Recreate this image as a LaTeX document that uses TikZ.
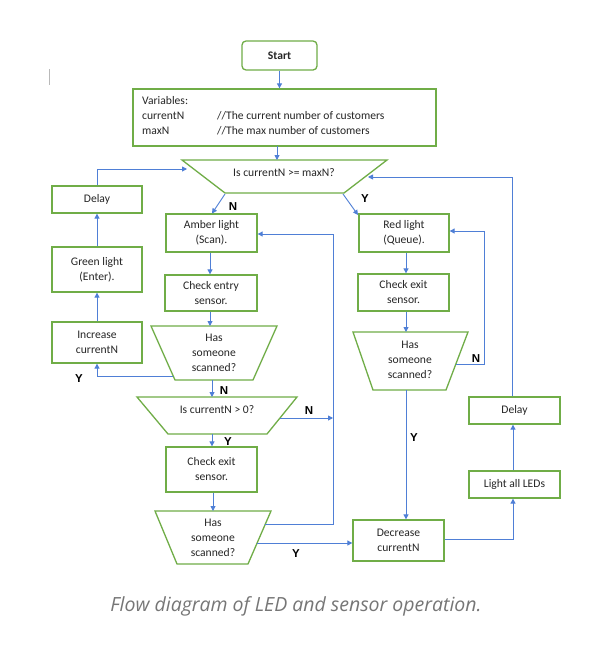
\documentclass[tikz,border=0pt]{standalone}
\usepackage{fontspec}
\setmainfont{Carlito}
\newfontfamily\arialb{Liberation Sans}
\newfontfamily\capfont{Open Sans}
\usetikzlibrary{arrows.meta}
\definecolor{boxgreen}{HTML}{70AD47}
\definecolor{lineblue}{HTML}{4F7FD6}
\definecolor{txt}{HTML}{262626}
\definecolor{capgray}{HTML}{767676}
\begin{document}
\begin{tikzpicture}[x=1pt,y=-1pt,
  box/.style={draw=boxgreen,line width=1.3pt,fill=white,text=txt,font=\fontsize{11.6}{15}\selectfont,align=center,inner sep=0pt},
  trap/.style={draw=boxgreen,line width=1.3pt,line join=miter},
  conn/.style={draw=lineblue,line width=0.9pt,-{Triangle[length=5pt,width=5pt]}},
  yn/.style={font=\arialb\bfseries\fontsize{11.5}{12}\selectfont,text=black,inner sep=0pt},
  ttext/.style={text=txt,font=\fontsize{11.6}{15}\selectfont,align=center,inner sep=0pt}]
\useasboundingbox (0,0) rectangle (607,646);
\fill[white] (0,0) rectangle (607,646);
% cursor mark
\draw[gray!55,line width=0.8pt] (49,69) -- (49,85);

% boxes
\node[box,rounded corners=4pt,minimum width=75pt,minimum height=29pt,font=\bfseries\fontsize{11.6}{15}\selectfont] (start) at (279.5,55.5) {Start};
\node[box,minimum width=303pt,minimum height=57pt] (var) at (284.5,117.5) {};
\node[ttext,anchor=west,align=left] (vartext) at (142,116.5) {\begin{tabular}{@{}p{75pt}@{}l@{}}Variables: & \\ currentN & //The current number of customers\\ maxN & //The max number of customers\end{tabular}};

% decision 1
\coordinate (d1a) at (182,160); \coordinate (d1b) at (387,160);
\coordinate (d1c) at (344,193); \coordinate (d1d) at (225,193);
\draw[trap] (d1a) -- (d1b) -- (d1c) -- (d1d) -- cycle;
\node[ttext] (d1) at (284,173) {Is currentN >= maxN?};

\node[box,minimum width=90pt,minimum height=27pt] (delayL) at (97,199.5) {Delay};
\node[box,minimum width=91pt,minimum height=38pt] (amber) at (211.5,233) {Amber light\\(Scan).};
\node[box,minimum width=92pt,minimum height=36pt] (chkEntry) at (211,293) {Check entry\\sensor.};
\node[box,minimum width=90pt,minimum height=45pt] (green) at (97,269.5) {Green light\\(Enter).};
\node[box,minimum width=90pt,minimum height=41pt] (incr) at (97,342.5) {Increase\\currentN};

% has scanned 1
\coordinate (h1a) at (151,326); \coordinate (h1b) at (277,326);
\coordinate (h1c) at (253,380); \coordinate (h1d) at (175,380);
\draw[trap] (h1a) -- (h1b) -- (h1c) -- (h1d) -- cycle;
\node[ttext] (h1) at (214,353) {Has\\someone\\scanned?};

% decision 2
\coordinate (d2a) at (137,397); \coordinate (d2b) at (297,397);
\coordinate (d2c) at (267,434); \coordinate (d2d) at (168,434);
\draw[trap] (d2a) -- (d2b) -- (d2c) -- (d2d) -- cycle;
\node[ttext] (d2) at (217,409.5) {Is currentN > 0?};

\node[box,minimum width=91pt,minimum height=45pt] (chkExitL) at (211.5,469.5) {Check exit\\sensor.};

% has scanned 2
\coordinate (h2a) at (155,511); \coordinate (h2b) at (271,511);
\coordinate (h2c) at (248,564); \coordinate (h2d) at (177,564);
\draw[trap] (h2a) -- (h2b) -- (h2c) -- (h2d) -- cycle;
\node[ttext] (h2) at (213,538) {Has\\someone\\scanned?};

\node[box,minimum width=91pt,minimum height=41pt] (decr) at (398.5,540.5) {Decrease\\currentN};
\node[box,minimum width=91pt,minimum height=27pt] (light) at (514.5,484.5) {Light all LEDs};
\node[box,minimum width=91pt,minimum height=27pt] (delayR) at (514.5,410.5) {Delay};
\node[box,minimum width=90pt,minimum height=38pt] (red) at (404,233) {Red light\\(Queue).};
\node[box,minimum width=91pt,minimum height=37pt] (chkExitR) at (403.5,292.5) {Check exit\\sensor.};

% has scanned 3
\coordinate (h3a) at (353,332); \coordinate (h3b) at (468,332);
\coordinate (h3c) at (446,390); \coordinate (h3d) at (373,390);
\draw[trap] (h3a) -- (h3b) -- (h3c) -- (h3d) -- cycle;
\node[ttext] (h3) at (410,360) {Has\\someone\\scanned?};

% connectors
\draw[conn] (start.south) -- (start.south |- var.north);
\coordinate (v1) at (277,146); \coordinate (v2) at (277,160);
\draw[conn] (v1) -- (v2);
\coordinate (dl1) at (187,169);
\draw[conn] (delayL.north) |- (dl1);
\coordinate (d1l) at (225,194); \coordinate (am1) at (212,213.5);
\draw[conn] (d1l) -- (am1);
\coordinate (d1r) at (343,194); \coordinate (rd1) at (358,215);
\draw[conn] (d1r) -- (rd1);
\draw[conn] (amber.south -| 210,0) -- (chkEntry.north -| 210,0);
\draw[conn] (chkEntry.south -| 210,0) -- (h1a -| 210,0);
\coordinate (h1y) at (173,376);
\draw[conn] (h1y) -| (incr.south);
\draw[conn] (incr.north) -- (green.south);
\draw[conn] (green.north) -- (delayL.south);
\draw[conn] (h1d -| 212,0) -- (d2a -| 212,0);
\coordinate (d2n) at (280,418); \coordinate (d2n2) at (333,418);
\draw[conn] (d2n) -- (d2n2);
\draw[conn] (d2d -| 212,0) -- (chkExitL.north -| 212,0);
\draw[conn] (chkExitL.south -| 213,0) -- (h2a -| 213,0);
\coordinate (h2n) at (265,524); \coordinate (amr) at (amber.east |- 0,234);
\draw[conn] (h2n) -| (333,234) -- (amr);
\coordinate (h2y) at (257,543);
\draw[conn] (h2y) -- (decr.west |- h2y);
\coordinate (dcr) at (decr.east |- 0,539);
\draw[conn] (dcr) -| (light.south -| 513,0);
\draw[conn] (light.north -| 513,0) -- (delayR.south -| 513,0);
\coordinate (d1in) at (368,177);
\draw[conn] (delayR.north -| 512,0) |- (d1in);
\draw[conn] (red.south -| 406,0) -- (chkExitR.north -| 406,0);
\draw[conn] (chkExitR.south -| 406,0) -- (h3a -| 406,0);
\coordinate (h3n) at (456,364); \coordinate (rdr) at (red.east |- 0,231);
\draw[conn] (h3n) -| (484,231) -- (rdr);
\draw[conn] (h3d -| 406,0) -- (decr.north -| 406,0);

% Y/N labels
\node[yn] (l1) at (233,207) {N};
\node[yn] (l2) at (365,199) {Y};
\node[yn] (l3) at (79,379) {Y};
\node[yn] (l4) at (224,391) {N};
\node[yn] (l5) at (309,411) {N};
\node[yn] (l6) at (228,442) {Y};
\node[yn] (l7) at (296,554) {Y};
\node[yn] (l8) at (414,438) {Y};
\node[yn] (l9) at (476,359) {N};

% caption
\node[font=\capfont\itshape\fontsize{19.5}{22}\selectfont,text=capgray,inner sep=0pt] (cap) at (296,606) {Flow diagram of LED and sensor operation.};
\end{tikzpicture}
\end{document}
